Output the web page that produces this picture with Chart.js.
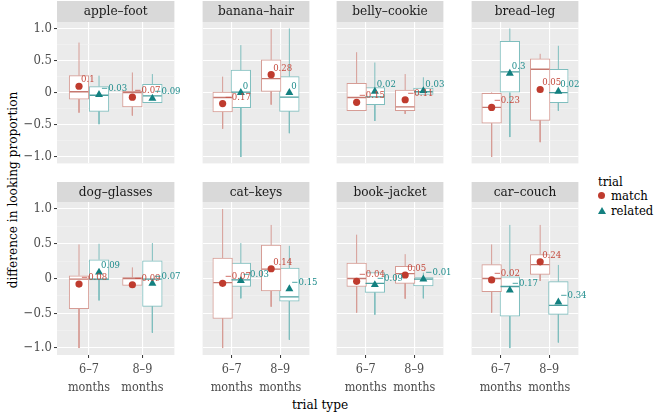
<!DOCTYPE html>
<html><head><meta charset="utf-8">
<script src="https://cdn.jsdelivr.net/npm/chart.js@4.4.1/dist/chart.umd.min.js"></script>
<style>
html,body{margin:0;padding:0;background:#fff;}
#fig{position:relative;width:654px;height:416px;overflow:hidden;font-family:"DejaVu Serif Condensed","DejaVu Serif",serif;color:#000;}
#fig canvas{position:absolute;}
.ytitle{position:absolute;left:12px;top:190px;transform:translate(-50%,-50%) rotate(-90deg);white-space:nowrap;font-size:13.5px;line-height:16px;}
.xtitle{position:absolute;left:320px;top:404px;transform:translate(-50%,-50%);white-space:nowrap;font-size:13.5px;line-height:16px;}
.lg{position:absolute;white-space:nowrap;line-height:16px;}
.dot{position:absolute;width:7px;height:7px;border-radius:50%;background:#BF3B2E;}
.tri{position:absolute;width:0;height:0;border-left:4px solid transparent;border-right:4px solid transparent;border-bottom:7px solid #138080;}
</style></head>
<body>
<div id="fig">
  <div class="ytitle">difference in looking proportion</div>
  <div class="xtitle">trial type</div>
  <div class="lg" style="left:598px;top:174px;font-size:13px;">trial</div>
  <div class="dot" style="left:598px;top:192px;"></div>
  <div class="lg" style="left:611px;top:188px;font-size:13px;">match</div>
  <div class="tri" style="left:598px;top:207px;"></div>
  <div class="lg" style="left:611px;top:203px;font-size:13px;">related</div>
</div>
<script>
// ---- data ----
const panelNames = ['apple–foot','banana–hair','belly–cookie','bread–leg','dog–glasses','cat–keys','book–jacket','car–couch'];
const ageGroups = ['6–7 months','8–9 months'];
const trials = ['match','related'];
const yTickValues = [-1, -0.5, 0, 0.5, 1];
const yTickLabels = ['−1.0','−0.5','0','0.5','1.0'];
const yMinorValues = [-0.75, -0.25, 0.25, 0.75];

// each entry: [6–7 months, 8–9 months], panels in panelNames order
const matchMin    = [[-0.31,-0.355],[-0.56,-0.185],[-0.28,-0.33],[-1.0,-0.77],[-1.0,-0.10],[-1.0,-0.405],[-0.49,-0.29],[-0.49,-0.035]];
const matchQ1     = [[-0.10,-0.22],[-0.30,0.02],[-0.28,-0.28],[-0.475,-0.43],[-0.435,-0.10],[-0.575,-0.18],[-0.115,-0.07],[-0.19,0.06]];
const matchMedian = [[0.015,0.0],[-0.075,0.22],[-0.075,-0.22],[-0.23,0.365],[-0.01,0.0],[-0.06,0.135],[0.0,0.07],[0.0,0.20]];
const matchQ3     = [[0.265,0.02],[0.01,0.51],[0.145,0.04],[0.0,0.525],[0.04,0.015],[0.295,0.48],[0.22,0.175],[0.20,0.345]];
const matchMax    = [[0.78,0.315],[0.25,0.99],[0.63,0.29],[0.01,0.605],[0.49,0.16],[1.0,0.77],[0.63,0.35],[0.49,0.77]];
const matchMean   = [[0.1,-0.07],[-0.17,0.28],[-0.15,-0.11],[-0.23,0.05],[-0.08,-0.09],[-0.07,0.14],[-0.04,0.05],[-0.02,0.24]];

const relatedMin    = [[-0.49,-0.16],[-1.0,-0.63],[-0.44,-0.025],[-0.69,-0.28],[-0.315,-0.78],[-0.285,-0.88],[-0.52,-0.285],[-1.0,-0.92]];
const relatedQ1     = [[-0.29,-0.155],[-0.235,-0.29],[-0.185,-0.025],[0.0,-0.155],[-0.02,-0.40],[-0.115,-0.325],[-0.20,-0.105],[-0.54,-0.515]];
const relatedMedian = [[-0.04,-0.05],[0.01,-0.07],[-0.065,0.015],[0.325,0.0],[-0.01,-0.01],[-0.02,-0.265],[-0.07,-0.01],[-0.115,-0.385]];
const relatedQ3     = [[0.095,0.13],[0.35,0.25],[0.08,0.07],[0.80,0.365],[0.27,0.255],[0.22,0.15],[0.085,0.015],[0.025,-0.045]];
const relatedMax    = [[0.265,0.29],[0.74,1.0],[0.47,0.24],[1.0,0.73],[0.50,0.51],[0.51,0.47],[0.085,0.085],[0.77,0.195]];
const relatedMean   = [[-0.03,-0.09],[0,0],[0.02,0.03],[0.3,0.02],[0.09,-0.07],[-0.03,-0.15],[-0.09,-0.01],[-0.17,-0.34]];

// ---- layout / style ----
const SERIF = '"DejaVu Serif Condensed", "DejaVu Serif", serif';
const COLS = [57, 192, 326, 461], PW = 128;
const ROWS = [{top: 1, bottom: 174}, {top: 182, bottom: 355}];
const XAXIS_H = 40, YAXIS_W = 57;
const X_MIN = 0.4, X_MAX = 2.6;
const DODGE = 0.1875, BOX_UNITS = 0.3375;
const BOX_PX = PW / (X_MAX - X_MIN) * BOX_UNITS;
const COLORS = {
  match:   {dark: '#BF3B2E', pale: '#D69C95', med: '#C6786F', text: '#C4493D'},
  related: {dark: '#138080', pale: '#7FBEBE', med: '#4A9F9F', text: '#1E8C8C'}
};
const STATS = {
  match:   {min: matchMin, q1: matchQ1, median: matchMedian, q3: matchQ3, max: matchMax, mean: matchMean},
  related: {min: relatedMin, q1: relatedQ1, median: relatedMedian, q3: relatedQ3, max: relatedMax, mean: relatedMean}
};

function fmt(v) { return String(Math.round(v * 100) / 100).replace('-', '−'); }
function isMajor(v) { return yTickValues.some(t => Math.abs(t - v) < 1e-9); }

function panelDatasets(p) {
  const ds = [];
  trials.forEach((t, ti) => {
    const s = STATS[t], c = COLORS[t];
    const off = ti === 0 ? -DODGE : DODGE;
    const xs = ageGroups.map((_, g) => g + 1 + off);
    ds.push({type: 'bar', label: t, data: xs.map((x, g) => ({x, y: [s.q1[p][g], s.q3[p][g]]})),
      backgroundColor: '#FFFFFF', borderColor: c.pale, borderWidth: 1, borderSkipped: false,
      grouped: false, barThickness: BOX_PX, order: 4});
    const wd = [];
    xs.forEach((x, g) => {
      wd.push({x, y: s.q3[p][g]}, {x, y: s.max[p][g]}, {x, y: null},
              {x, y: s.q1[p][g]}, {x, y: s.min[p][g]}, {x, y: null});
    });
    ds.push({type: 'line', label: t + ' whisker', data: wd, borderColor: c.pale, borderWidth: 1,
      pointRadius: 0, spanGaps: false, fill: false, order: 3});
    ds.push({type: 'scatter', label: t + ' median', data: xs.map((x, g) => ({x, y: s.median[p][g]})),
      pointStyle: 'line', pointRadius: BOX_PX / 2 - 0.5, borderColor: c.med, borderWidth: 1.3, order: 2});
    ds.push({type: 'scatter', label: t + ' mean', data: xs.map((x, g) => ({x, y: s.mean[p][g]})),
      pointStyle: ti === 0 ? 'circle' : 'triangle', pointRadius: ti === 0 ? 3.6 : 4.6,
      backgroundColor: c.dark, borderColor: c.dark, borderWidth: 0, order: 1,
      meanLabels: s.mean[p].map(fmt), labelColor: c.text});
  });
  return ds;
}

const panelBg = {
  id: 'panelBg',
  beforeDraw(chart) {
    const {ctx, chartArea: a} = chart;
    ctx.save();
    ctx.fillStyle = '#D9D9D9';
    ctx.fillRect(a.left, 0, a.right - a.left, a.top);
    ctx.fillStyle = '#EBEBEB';
    ctx.fillRect(a.left, a.top, a.right - a.left, a.bottom - a.top);
    ctx.restore();
  }
};
const meanLabels = {
  id: 'meanLabels',
  afterDatasetsDraw(chart) {
    const ctx = chart.ctx;
    chart.data.datasets.forEach((d, i) => {
      if (!d.meanLabels) return;
      const meta = chart.getDatasetMeta(i);
      ctx.save();
      ctx.font = "9.5px " + SERIF;
      ctx.fillStyle = d.labelColor;
      ctx.textAlign = 'left';
      ctx.textBaseline = 'middle';
      meta.data.forEach((el, j) => ctx.fillText(d.meanLabels[j], el.x + 2, el.y - 6.5));
      ctx.restore();
    });
  }
};

const fig = document.getElementById('fig');
panelNames.forEach((name, p) => {
  const r = Math.floor(p / 4), c = p % 4;
  const isLeft = c === 0, isBottom = r === 1;
  const left = isLeft ? 0 : COLS[c];
  const width = COLS[c] + PW - left;
  const top = ROWS[r].top;
  const height = ROWS[r].bottom - top + (isBottom ? XAXIS_H : 0);
  const cv = document.createElement('canvas');
  cv.width = width; cv.height = height;
  cv.style.left = left + 'px'; cv.style.top = top + 'px';
  cv.style.width = width + 'px'; cv.style.height = height + 'px';
  fig.appendChild(cv);
  const stripH = (r === 0 ? 22 : 202) - top;
  new Chart(cv, {
    type: 'bar',
    data: {datasets: panelDatasets(p)},
    plugins: [panelBg, meanLabels],
    options: {
      responsive: false, animation: false, devicePixelRatio: 1,
      events: [],
      layout: {padding: 0},
      plugins: {
        legend: {display: false}, tooltip: {enabled: false},
        title: {display: true, text: name, fullSize: false, color: '#1A1A1A',
          font: {family: SERIF, size: 13.5, weight: 'normal', lineHeight: 1.2},
          padding: {top: (stripH - 16.2) / 2, bottom: (stripH - 16.2) / 2}}
      },
      scales: {
        x: {
          type: 'linear', min: X_MIN, max: X_MAX, offset: false,
          afterBuildTicks: ax => { ax.ticks = ageGroups.map((_, g) => ({value: g + 1})); },
          afterFit: ax => { ax.height = isBottom ? XAXIS_H : 0; },
          grid: {offset: false, color: '#FFFFFF', lineWidth: 1.1, drawTicks: isBottom,
                 tickLength: 3, tickColor: '#333333', tickWidth: 1},
          border: {display: false},
          ticks: {display: isBottom, autoSkip: false, maxRotation: 0, padding: 3,
                  color: '#4D4D4D', font: {family: SERIF, size: 12.5, lineHeight: 1.45},
                  callback: v => { const g = Math.round(v) - 1; return ageGroups[g] ? ageGroups[g].split(' ') : ''; }}
        },
        y: {
          type: 'linear', min: -1.1, max: 1.1,
          afterBuildTicks: ax => { ax.ticks = yTickValues.concat(yMinorValues).sort((a, b) => a - b).map(v => ({value: v})); },
          afterFit: ax => { ax.width = isLeft ? YAXIS_W : 0; },
          grid: {color: ctx => isMajor(ctx.tick.value) ? '#FFFFFF' : '#F4F4F4',
                 lineWidth: ctx => isMajor(ctx.tick.value) ? 1.1 : 0.6,
                 drawTicks: isLeft, tickLength: 3,
                 tickColor: ctx => isMajor(ctx.tick.value) ? '#333333' : 'rgba(0,0,0,0)', tickWidth: 1},
          border: {display: false},
          ticks: {display: isLeft, autoSkip: false, padding: 2, color: '#4D4D4D',
                  font: {family: SERIF, size: 13},
                  callback: v => { const i = yTickValues.findIndex(t => Math.abs(t - v) < 1e-9); return i >= 0 ? yTickLabels[i] : ''; }}
        }
      }
    }
  });
});
</script>
</body></html>
